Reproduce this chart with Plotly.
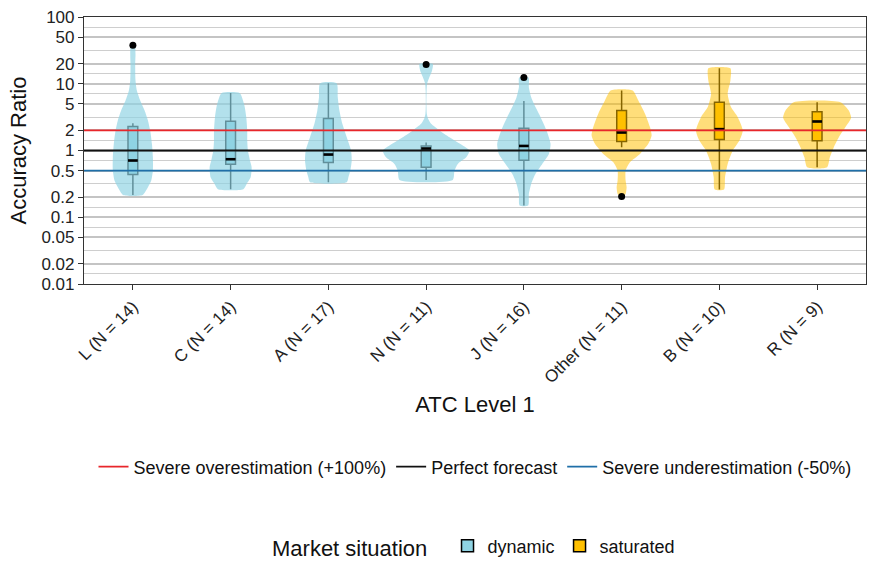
import plotly.graph_objects as go

# ---------------- data ----------------
categories = ["L (N = 14)", "C (N = 14)", "A (N = 17)", "N (N = 11)",
              "J (N = 16)", "Other (N = 11)", "B (N = 10)", "R (N = 9)"]
market = ["dynamic", "dynamic", "dynamic", "dynamic", "dynamic",
          "saturated", "saturated", "saturated"]

q1 = [0.437, 0.62, 0.66, 0.56, 0.716, 1.36, 1.46, 1.40]
median = [0.708, 0.74, 0.87, 1.07, 1.17, 1.86, 2.09, 2.72]
q3 = [2.29, 2.75, 3.02, 1.17, 2.16, 3.98, 5.30, 3.80]
whisker_low = [0.216, 0.263, 0.335, 0.363, 0.15, 1.12, 0.26, 0.56]
whisker_high = [2.57, 7.24, 10.2, 1.32, 5.5, 7.94, 17.0, 5.30]

outlier_group = [0, 3, 4, 5]
outlier_value = [37.6, 19.5, 12.4, 0.204]

# violin outlines: accuracy ratio levels and half-widths (category units)
violin_y = [
    [0.216, 0.282, 0.355, 0.50, 0.79, 1.26, 2.0, 2.82, 3.98, 5.6, 7.9, 11.2, 20.0, 28.2, 37.0],
    [0.263, 0.316, 0.398, 0.562, 0.708, 1.0, 1.41, 2.0, 3.16, 5.0, 7.24],
    [0.335, 0.398, 0.50, 0.708, 1.0, 1.58, 2.51, 3.98, 6.3, 10.2],
    [0.363, 0.50, 0.63, 0.79, 1.0, 1.19, 1.58, 2.0, 2.51, 2.99, 3.55, 5.0, 7.9, 10.0, 12.6, 15.8, 19.95],
    [0.15, 0.224, 0.316, 0.447, 0.63, 0.89, 1.26, 2.0, 3.16, 4.47, 6.3, 8.9, 12.4],
    [0.204, 0.224, 0.282, 0.355, 0.50, 0.668, 0.89, 1.26, 1.68, 2.24, 3.55, 5.6, 7.94],
    [0.26, 0.398, 0.63, 1.0, 1.41, 2.0, 3.16, 4.47, 7.1, 11.2, 17.0],
    [0.56, 0.79, 1.12, 1.58, 2.24, 3.09, 3.98, 5.30],
]
violin_hw = [
    [0.10, 0.154, 0.188, 0.205, 0.205, 0.195, 0.177, 0.154, 0.12, 0.075, 0.041, 0.027, 0.024, 0.027, 0.02],
    [0.13, 0.164, 0.205, 0.215, 0.198, 0.177, 0.17, 0.17, 0.16, 0.137, 0.092],
    [0.188, 0.205, 0.225, 0.239, 0.232, 0.188, 0.143, 0.113, 0.096, 0.085],
    [0.273, 0.29, 0.324, 0.41, 0.444, 0.375, 0.239, 0.137, 0.051, 0.02, 0.007, 0.003, 0.005, 0.01, 0.034, 0.061, 0.068],
    [0.044, 0.051, 0.075, 0.119, 0.188, 0.256, 0.273, 0.232, 0.171, 0.119, 0.075, 0.051, 0.048],
    [0.017, 0.041, 0.051, 0.041, 0.041, 0.085, 0.188, 0.273, 0.307, 0.29, 0.239, 0.171, 0.113],
    [0.048, 0.058, 0.085, 0.137, 0.205, 0.239, 0.188, 0.119, 0.085, 0.113, 0.113],
    [0.102, 0.13, 0.171, 0.222, 0.29, 0.348, 0.324, 0.239],
]

ref_names = ["Severe overestimation (+100%)", "Perfect forecast", "Severe underestimation (-50%)"]
ref_values = [2, 1, 0.5]
ref_colors = ["#e8262b", "#111111", "#1f6fa8"]

y_ticks = [0.01, 0.02, 0.05, 0.1, 0.2, 0.5, 1, 2, 5, 10, 20, 50, 100]
y_ticktext = ["0.01", "0.02", "0.05", "0.1", "0.2", "0.5", "1", "2", "5", "10", "20", "50", "100"]
y_minor = [(a * b) ** 0.5 for a, b in zip(y_ticks[:-1], y_ticks[1:])]

box_colors = {"dynamic": "#8fd3e3", "saturated": "#ffc000"}
violin_colors = {"dynamic": "rgba(143,211,227,0.68)", "saturated": "rgba(255,192,0,0.52)"}

FONT = "Liberation Sans, Arial, sans-serif"

fig = go.Figure()

# violins
for i, (ys, hws) in enumerate(zip(violin_y, violin_hw)):
    xs = [i + w for w in hws] + [i - w for w in reversed(hws)] + [i + hws[0]]
    yy = list(ys) + list(reversed(ys)) + [ys[0]]
    fig.add_trace(go.Scatter(
        x=xs, y=yy, mode="lines", fill="toself",
        fillcolor=violin_colors[market[i]], line=dict(width=0, shape="spline", smoothing=0.6),
        showlegend=False, hoverinfo="skip"))

# boxes
shown = set()
for i, cat in enumerate(categories):
    m = market[i]
    fig.add_trace(go.Box(
        x=[i], q1=[q1[i]], median=[median[i]], q3=[q3[i]],
        lowerfence=[whisker_low[i]], upperfence=[whisker_high[i]],
        width=0.1, whiskerwidth=0, fillcolor=box_colors[m],
        line=dict(color="#000000", width=1.5), boxpoints=False,
        name=m, legendgroup=m, showlegend=m not in shown, legend="legend2"))
    shown.add(m)
    fig.add_trace(go.Scatter(
        x=[i - 0.05, i + 0.05], y=[median[i], median[i]], mode="lines",
        line=dict(color="#000000", width=2.6), showlegend=False, hoverinfo="skip"))

# reference lines
for name, val, col in zip(ref_names, ref_values, ref_colors):
    fig.add_trace(go.Scatter(
        x=[-0.5, 7.5], y=[val, val], mode="lines", name=name,
        line=dict(color=col, width=1.8), legend="legend"))

# outliers
fig.add_trace(go.Scatter(
    x=outlier_group, y=outlier_value, mode="markers",
    marker=dict(color="black", size=7), showlegend=False))

fig.update_layout(
    width=877, height=561,
    margin=dict(l=84, r=11, t=17, b=277, autoexpand=False),
    paper_bgcolor="white", plot_bgcolor="white",
    font=dict(family=FONT, size=17, color="#222222"),
    boxmode="overlay",
    legend=dict(orientation="h", x=0.5, xanchor="center", y=-0.685, yanchor="middle",
                font=dict(size=18, color="#111111"), itemwidth=30, traceorder="normal"),
    legend2=dict(orientation="h", x=0.5, xanchor="center", y=-0.985, yanchor="middle",
                 font=dict(size=18, color="#111111"), itemwidth=30,
                 title=dict(text="Market situation  ", font=dict(size=22, color="#111111"))),
)

fig.update_xaxes(
    range=[-0.5, 7.5], tickmode="array", tickvals=list(range(len(categories))),
    ticktext=categories, tickangle=-45, ticks="outside", ticklen=5, tickcolor="#333333",
    tickfont=dict(size=17, color="#222222"),
    showgrid=False, zeroline=False, showline=True, linecolor="#333333", linewidth=1.2, mirror=True,
    title=dict(text="ATC Level 1", font=dict(size=22, color="#111111"), standoff=10))

fig.update_yaxes(
    type="log", range=[-2, 2], tickmode="array", tickvals=y_ticks, ticktext=y_ticktext,
    ticks="outside", ticklen=5, tickcolor="#333333", tickfont=dict(size=17, color="#222222"),
    showgrid=True, gridcolor="#c4c4c4", gridwidth=1.6,
    minor=dict(tickmode="array", tickvals=y_minor, showgrid=True, gridcolor="#cecece", gridwidth=1.4, ticks=""),
    zeroline=False, showline=True, linecolor="#333333", linewidth=1.2, mirror=True,
    title=dict(text="Accuracy Ratio", font=dict(size=22, color="#111111"), standoff=8))

fig.write_html("out.html", config={"displayModeBar": False},
               post_script="document.body.style.margin='0';")
